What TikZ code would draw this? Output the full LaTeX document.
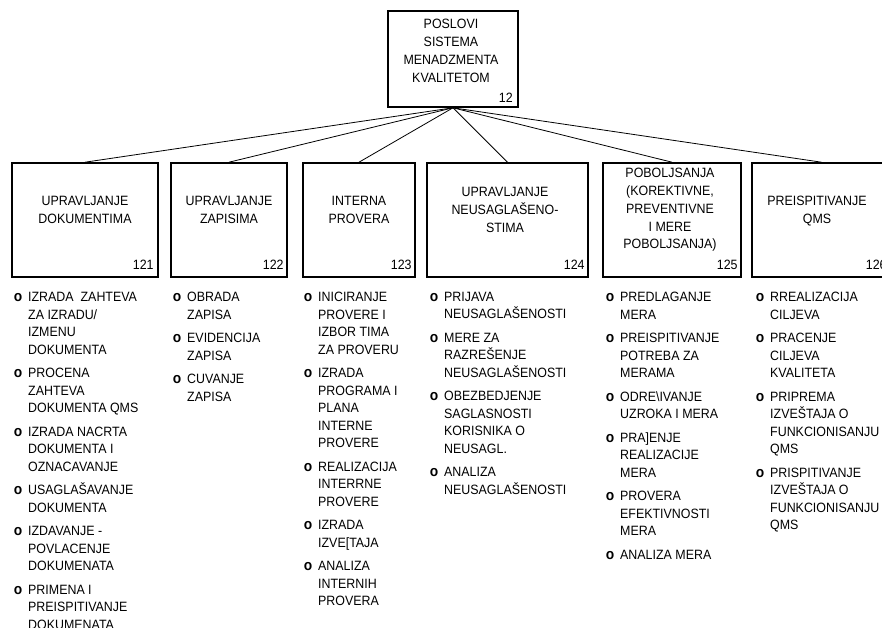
\documentclass[tikz,border=0pt]{standalone}
\usepackage{fontspec}
\setmainfont{Liberation Sans}[FakeStretch=0.92]
% bullet hanging to the left of each list item
\newcommand\lstbullet{\llap{{\fontsize{15}{17.5}\selectfont\bfseries o}\hspace{6pt}}}
\begin{document}
\begin{tikzpicture}[x=1pt,y=-1pt,
  box/.style={draw, line width=1.6pt, inner sep=0pt},
  title/.style={align=center, font=\fontsize{13.5}{17.8}\selectfont, inner sep=0pt},
  num/.style={font=\fontsize{13.5}{16}\selectfont, inner sep=0pt, anchor=base east},
  lst/.style={align=left, font=\fontsize{13.5}{17.5}\selectfont, inner sep=0pt, anchor=north west},
  link/.style={line width=0.8pt}]
\clip (0,0) rectangle (882,627);
\fill[white] (0,0) rectangle (882,627);

% root
\node[box, minimum width=130pt, minimum height=96pt] (top) at (453,59) {};
\node[title] (topt) at (451,51) {POSLOVI\\ SISTEMA\\ MENADZMENTA\\ KVALITETOM};
\node[num] (topn) at (513,102) {12};

% second level boxes
\node[box, minimum width=146pt, minimum height=114pt] (b121) at (85,220) {};
\node[box, minimum width=116pt, minimum height=114pt] (b122) at (229,220) {};
\node[box, minimum width=112pt, minimum height=114pt] (b123) at (359,220) {};
\node[box, minimum width=161pt, minimum height=114pt] (b124) at (507.5,220) {};
\node[box, minimum width=138pt, minimum height=114pt] (b125) at (672,220) {};
\node[box, minimum width=139pt, minimum height=114pt] (b126) at (821.5,220) {};

\node[title] (t121) at (85,210) {UPRAVLJANJE\\ DOKUMENTIMA};
\node[title] (t122) at (229,210) {UPRAVLJANJE\\ ZAPISIMA};
\node[title] (t123) at (359,210) {INTERNA\\ PROVERA};
\node[title] (t124) at (505,210) {UPRAVLJANJE\\ NEUSAGLAŠENO-\\ STIMA};
\node[title] (t125) at (670,210) {POBOLJSANJA\\ (KOREKTIVNE,\\ PREVENTIVNE\\ I MERE\\ POBOLJSANJA)};
\node[title] (t126) at (817,211) {PREISPITIVANJE\\ QMS};

\node[num] (n121) at ([xshift=-5pt,yshift=8pt]b121.south east) {121};
\node[num] (n122) at ([xshift=-4pt,yshift=8pt]b122.south east) {122};
\node[num] (n123) at ([xshift=-4pt,yshift=8pt]b123.south east) {123};
\node[num] (n124) at ([xshift=-4pt,yshift=8pt]b124.south east) {124};
\node[num] (n125) at ([xshift=-4pt,yshift=8pt]b125.south east) {125};
\node[num] (n126) at ([xshift=-5pt,yshift=8pt]b126.south east) {126};

% connectors
\foreach \b in {b121,b122,b123,b124,b125,b126}
  \draw[link] (top.south) -- (\b.north);

% activity lists
\node[lst] (l121) at (28,292) {%
\lstbullet IZRADA \ ZAHTEVA\\ ZA IZRADU/\\ IZMENU\\ DOKUMENTA\\[6pt]
\lstbullet PROCENA\\ ZAHTEVA\\ DOKUMENTA QMS\\[6pt]
\lstbullet IZRADA NACRTA\\ DOKUMENTA I\\ OZNACAVANJE\\[6pt]
\lstbullet USAGLAŠAVANJE\\ DOKUMENTA\\[6pt]
\lstbullet IZDAVANJE -\\ POVLACENJE\\ DOKUMENATA\\[6pt]
\lstbullet PRIMENA I\\ PREISPITIVANJE\\ DOKUMENATA};

\node[lst] (l122) at (187,292) {%
\lstbullet OBRADA\\ ZAPISA\\[6pt]
\lstbullet EVIDENCIJA\\ ZAPISA\\[6pt]
\lstbullet CUVANJE\\ ZAPISA};

\node[lst] (l123) at (318,292) {%
\lstbullet INICIRANJE\\ PROVERE I\\ IZBOR TIMA\\ ZA PROVERU\\[6pt]
\lstbullet IZRADA\\ PROGRAMA I\\ PLANA\\ INTERNE\\ PROVERE\\[6pt]
\lstbullet REALIZACIJA\\ INTERRNE\\ PROVERE\\[6pt]
\lstbullet IZRADA\\ IZVE[TAJA\\[6pt]
\lstbullet ANALIZA\\ INTERNIH\\ PROVERA};

\node[lst] (l124) at (444,292) {%
\lstbullet PRIJAVA\\ NEUSAGLAŠENOSTI\\[6pt]
\lstbullet MERE ZA\\ RAZREŠENJE\\ NEUSAGLAŠENOSTI\\[6pt]
\lstbullet OBEZBEDJENJE\\ SAGLASNOSTI\\ KORISNIKA O\\ NEUSAGL.\\[6pt]
\lstbullet ANALIZA\\ NEUSAGLAŠENOSTI};

\node[lst] (l125) at (620,292) {%
\lstbullet PREDLAGANJE\\ MERA\\[6pt]
\lstbullet PREISPITIVANJE\\ POTREBA ZA\\ MERAMA\\[6pt]
\lstbullet ODRE\textbackslash IVANJE\\ UZROKA I MERA\\[6pt]
\lstbullet PRA]ENJE\\ REALIZACIJE\\ MERA\\[6pt]
\lstbullet PROVERA\\ EFEKTIVNOSTI\\ MERA\\[6pt]
\lstbullet ANALIZA MERA};

\node[lst] (l126) at (770,292) {%
\lstbullet RREALIZACIJA\\ CILJEVA\\[6pt]
\lstbullet PRACENJE\\ CILJEVA\\ KVALITETA\\[6pt]
\lstbullet PRIPREMA\\ IZVEŠTAJA O\\ FUNKCIONISANJU\\ QMS\\[6pt]
\lstbullet PRISPITIVANJE\\ IZVEŠTAJA O\\ FUNKCIONISANJU\\ QMS};
\end{tikzpicture}
\end{document}
